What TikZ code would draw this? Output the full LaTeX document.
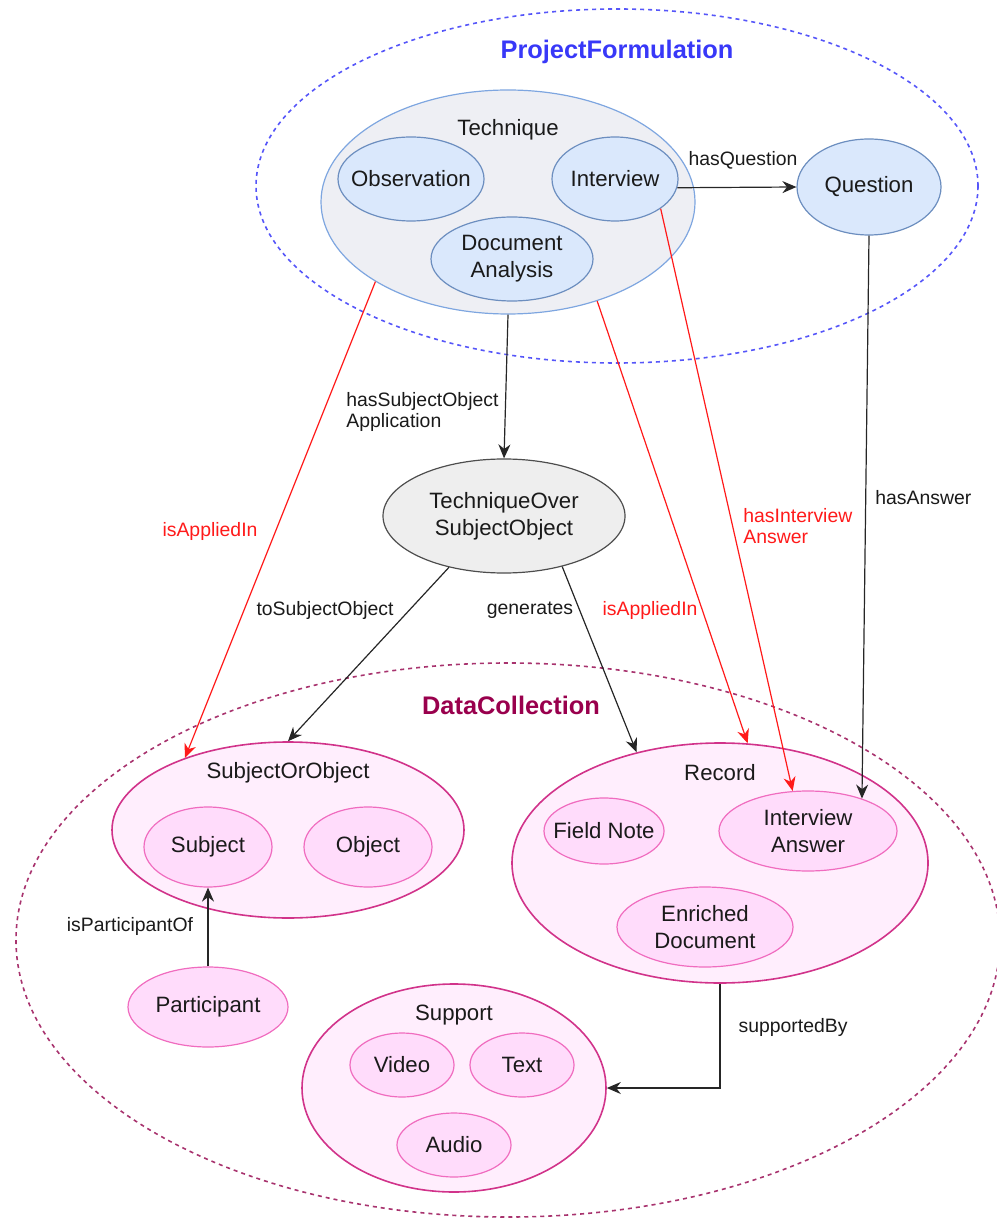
\documentclass[tikz,border=0pt]{standalone}
\usepackage{fontspec}
\setmainfont{Liberation Sans}
\usetikzlibrary{shapes.geometric,arrows.meta}

\definecolor{pfblue}{HTML}{3838F8}
\definecolor{dcmaroon}{HTML}{99004D}
\definecolor{dcdash}{HTML}{A8336E}
\definecolor{blfill}{HTML}{DAE8FC}
\definecolor{bldraw}{HTML}{6C8EBF}
\definecolor{techfill}{HTML}{EEEFF4}
\definecolor{techdraw}{HTML}{7EA6E0}
\definecolor{gyfill}{HTML}{EEEEEE}
\definecolor{gydraw}{HTML}{4D4D4D}
\definecolor{pkfill}{HTML}{FFEEFD}
\definecolor{pkdraw}{HTML}{D1338A}
\definecolor{pkinfill}{HTML}{FFDCFB}
\definecolor{pkindraw}{HTML}{F06CBF}
\definecolor{relred}{HTML}{FF1A1A}
\definecolor{txtgray}{HTML}{1A1A1A}

\tikzset{
  nodetext/.style={font={\fontsize{11.1}{13.5}\selectfont}, text=txtgray, align=center},
  labeltext/.style={font={\fontsize{9.7}{10.8}\selectfont}, text=txtgray, inner sep=0pt},
  redlabel/.style={labeltext, text=relred},
  areaname/.style={font={\fontsize{12.7}{15}\selectfont\bfseries}, inner sep=0pt},
  inside/.style={label={[nodetext]center:#1}},
  blueell/.style={ellipse, draw=bldraw, fill=blfill, line width=0.6pt, inner sep=0pt},
  pinkouter/.style={ellipse, draw=pkdraw, fill=pkfill, line width=0.8pt, inner sep=0pt},
  pinkinner/.style={ellipse, draw=pkindraw, fill=pkinfill, line width=0.6pt, inner sep=0pt},
  rel/.style={draw=black!85, line width=0.6pt, -{Stealth[length=7pt,width=6pt]}},
  redrel/.style={draw=relred, line width=0.6pt, -{Stealth[length=7pt,width=6pt]}},
}

\begin{document}
\begin{tikzpicture}[x=0.5pt,y=0.5pt,yscale=-1,xscale=1]
        \useasboundingbox (0,0) rectangle (996,1218);

        %Shape: Ellipse [ProjectFormulation]
        \node (proj) [ellipse, draw=pfblue!85, dash pattern={on 2pt off 2pt}, line width=0.8pt, minimum width=361pt, minimum height=177pt, inner sep=0pt] at (617,186) {};
        % Text Node
        \node (projname) [areaname, text=pfblue] at (617,52) {ProjectFormulation};

        %Shape: Ellipse [Technique]
        \node (tech) [ellipse, draw=techdraw, fill=techfill, line width=0.6pt, minimum width=187pt, minimum height=112pt, inner sep=0pt] at (508,202) {};
        \node (techname) [nodetext] at (508,130) {Technique};
        \node (obs) [blueell, minimum width=73pt, minimum height=42pt, inside=Observation] at (411,179) {};
        \node (intv) [blueell, minimum width=63pt, minimum height=42pt, inside=Interview] at (615,179) {};
        \node (docan) [blueell, minimum width=81pt, minimum height=42pt, inside={Document\\Analysis}] at (512,259) {};

        %Shape: Ellipse [Question]
        \node (quest) [blueell, minimum width=72pt, minimum height=48pt, inside=Question] at (869,187) {};

        %Shape: Ellipse [TechniqueOverSubjectObject]
        \node (toso) [ellipse, draw=gydraw, fill=gyfill, line width=0.6pt, minimum width=121pt, minimum height=57pt, inner sep=0pt, inside={TechniqueOver\\SubjectObject}] at (504,516) {};

        %Shape: Ellipse [DataCollection]
        \node (data) [ellipse, draw=dcdash, dash pattern={on 2pt off 2pt}, line width=0.8pt, minimum width=492pt, minimum height=277pt, inner sep=0pt] at (508,940) {};
        % Text Node
        \node (dataname) [areaname, text=dcmaroon] at (511,705) {DataCollection};

        %Shape: Ellipse [SubjectOrObject]
        \node (subobj) [pinkouter, minimum width=176pt, minimum height=88pt] at (288,830) {};
        \node (subobjname) [nodetext] at (288,773) {SubjectOrObject};
        \node (subj) [pinkinner, minimum width=64pt, minimum height=40pt, inside=Subject] at (208,847) {};
        \node (obj) [pinkinner, minimum width=64pt, minimum height=40pt, inside=Object] at (368,847) {};
        \node (part) [pinkinner, minimum width=80pt, minimum height=40pt, inside=Participant] at (208,1007) {};

        %Shape: Ellipse [Record]
        \node (rec) [pinkouter, minimum width=208pt, minimum height=120pt] at (720,863) {};
        \node (recname) [nodetext] at (720,773) {Record};
        \node (fnote) [pinkinner, minimum width=60pt, minimum height=33pt, inside={Field Note}] at (604,831) {};
        \node (ians) [pinkinner, minimum width=89pt, minimum height=40pt, inside={Interview\\Answer}] at (808,831) {};
        \node (edoc) [pinkinner, minimum width=88pt, minimum height=40pt, inside={Enriched\\Document}] at (705,927) {};

        %Shape: Ellipse [Support]
        \node (supp) [pinkouter, minimum width=152pt, minimum height=104pt] at (454,1088) {};
        \node (suppname) [nodetext] at (454,1015) {Support};
        \node (video) [pinkinner, minimum width=52pt, minimum height=32pt, inside=Video] at (402,1065) {};
        \node (textsup) [pinkinner, minimum width=52pt, minimum height=32pt, inside=Text] at (522,1065) {};
        \node (audio) [pinkinner, minimum width=57pt, minimum height=32pt, inside=Audio] at (454,1145) {};

        %Straight Lines
        \draw [rel] (intv.-8) -- (quest.west);
        \draw [rel] (tech.south) -- (toso.north);
        \draw [rel] (toso.223) -- (subobj.north);
        \draw [rel] (toso.319) -- (rec.127);
        \draw [rel] (part.north) -- (subj.south);
        \draw [rel] (quest.south) -- (ians.31);
        \draw [rel] (rec.south) |- (supp.east);
        \draw [redrel] (tech.211.5) -- (subobj.145.4);
        \draw [redrel] (tech.312.3) -- (rec.77.8);
        \draw [redrel] (intv.327.2) -- (ians.111);

        % Text Node
        \node (lblquest) [labeltext] at (743,160) {hasQuestion};
        % Text Node
        \node (lblsoa) [labeltext, anchor=west, align=left] at (346,412) {hasSubjectObject\\Application};
        % Text Node
        \node (lblapp1) [redlabel] at (210,531) {isAppliedIn};
        % Text Node
        \node (lblapp2) [redlabel] at (650,610) {isAppliedIn};
        % Text Node
        \node (lblians) [redlabel, anchor=west, align=left] at (743,526) {hasInterview\\Answer};
        % Text Node
        \node (lblans) [labeltext, anchor=west] at (875,498) {hasAnswer};
        % Text Node
        \node (lbltso) [labeltext] at (325,610) {toSubjectObject};
        % Text Node
        \node (lblgen) [labeltext] at (530,610) {generates};
        % Text Node
        \node (lblpart) [labeltext] at (130,926) {isParticipantOf};
        % Text Node
        \node (lblsup) [labeltext] at (793,1027) {supportedBy};

\end{tikzpicture}
\end{document}
